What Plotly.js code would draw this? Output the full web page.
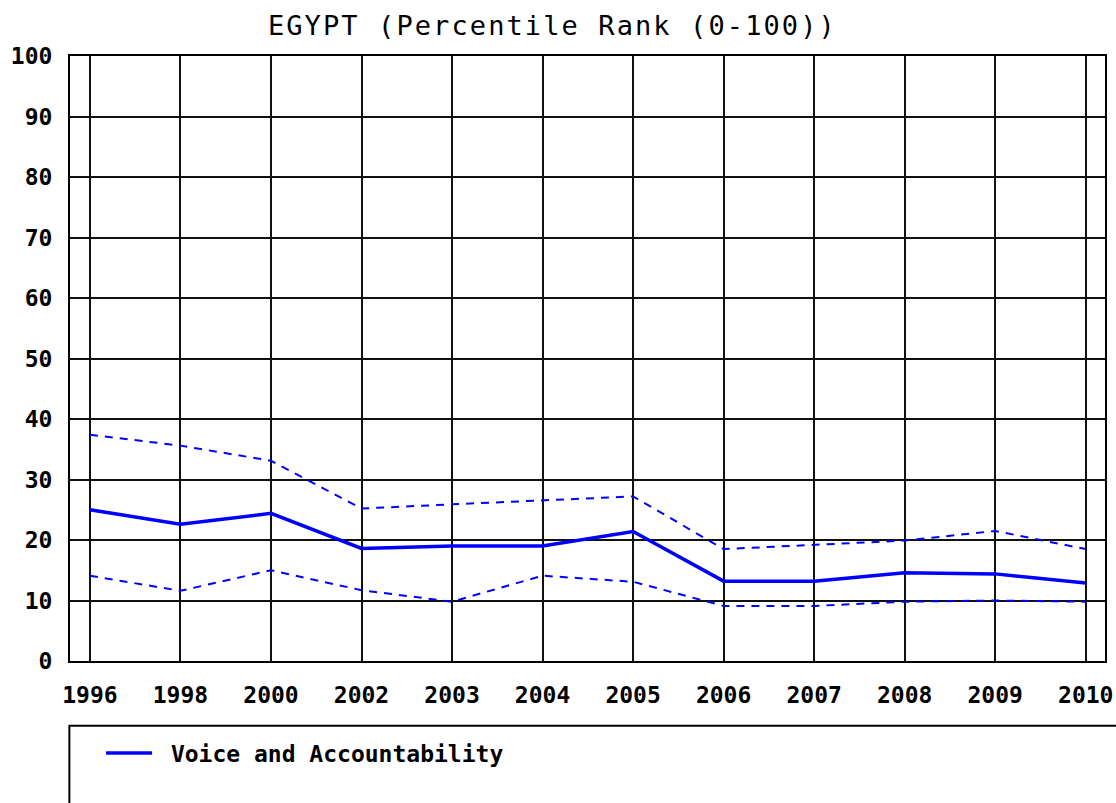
<!DOCTYPE html>
<html>
<head>
<meta charset="utf-8">
<script src="https://cdn.plot.ly/plotly-3.0.1.min.js"></script>
<style>
html,body{margin:0;padding:0;background:#fff;}
#chart{width:1116px;height:803px;}
.gtitle{letter-spacing:2.1px;}
</style>
</head>
<body>
<div id="chart"></div>
<script>
var years = ["1996","1998","2000","2002","2003","2004","2005","2006","2007","2008","2009","2010"];
var voiceAccountability = [25.0, 22.6, 24.4, 18.6, 19.0, 19.0, 21.4, 13.2, 13.2, 14.6, 14.4, 12.9];
var upperBound = [37.4, 35.6, 33.1, 25.2, 25.9, 26.6, 27.2, 18.5, 19.2, 19.9, 21.5, 18.5];
var lowerBound = [14.1, 11.6, 15.0, 11.7, 9.8, 14.1, 13.1, 9.1, 9.1, 9.8, 10.0, 9.8];
var yTicks = [0,10,20,30,40,50,60,70,80,90,100];

var mono = "DejaVu Sans Mono, Liberation Mono, monospace";

var traces = [
  {x: years, y: upperBound, type: "scatter", mode: "lines", showlegend: false,
   line: {color: "#0000ff", width: 2, dash: "8px,7px"}, hoverinfo: "skip"},
  {x: years, y: lowerBound, type: "scatter", mode: "lines", showlegend: false,
   line: {color: "#0000ff", width: 2, dash: "8px,7px"}, hoverinfo: "skip"},
  {x: years, y: voiceAccountability, type: "scatter", mode: "lines",
   name: "\u00a0Voice and Accountability",
   line: {color: "#0000ff", width: 3.5}}
];

var layout = {
  width: 1116, height: 803,
  paper_bgcolor: "#fff", plot_bgcolor: "#fff",
  margin: {l: 70, r: 11, t: 56, b: 142, pad: 0},
  title: {text: "EGYPT (Percentile Rank (0-100))",
          font: {family: mono, size: 27, color: "#000"},
          xref: "container", x: 0.495, xanchor: "center",
          yref: "container", y: 0.968, yanchor: "middle"},
  xaxis: {type: "category", range: [-0.22, 11.213], fixedrange: true,
          showgrid: true, gridcolor: "#111", gridwidth: 2,
          showline: true, linecolor: "#000", linewidth: 2, mirror: true,
          ticks: "", ticklabelstandoff: 12,
          tickfont: {family: mono, size: 23, color: "#000", weight: "bold"}},
  yaxis: {range: [0, 100], tickvals: yTicks, ticktext: yTicks.map(String), fixedrange: true,
          showgrid: true, gridcolor: "#111", gridwidth: 2, zeroline: false,
          showline: true, linecolor: "#000", linewidth: 2, mirror: true,
          ticks: "", ticklabelstandoff: 11,
          tickfont: {family: mono, size: 23, color: "#000", weight: "bold"}},
  showlegend: true,
  legend: {x: 0.03, xanchor: "left", y: -0.152, yanchor: "middle",
           bgcolor: "rgba(0,0,0,0)", borderwidth: 0,
           font: {family: mono, size: 23, color: "#000", weight: "bold"},
           itemwidth: 46},
  shapes: [
    {type: "rect", xref: "paper", yref: "paper",
     x0: -0.0006, x1: 1.2, y0: -0.3, y1: -0.107,
     line: {color: "#000", width: 2}, fillcolor: "rgba(0,0,0,0)"}
  ]
};

Plotly.newPlot("chart", traces, layout, {displayModeBar: false, staticPlot: true});
</script>
</body>
</html>
